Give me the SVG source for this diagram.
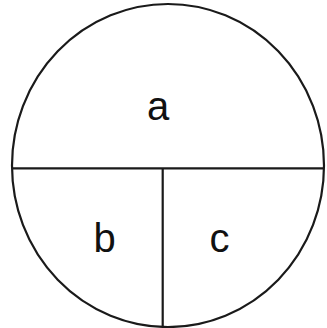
<svg xmlns="http://www.w3.org/2000/svg" width="327" height="328" viewBox="0 0 327 328">
<style>
.ln{stroke:#1a1a1a;stroke-width:2.2;fill:none}
.lb{font-family:"Liberation Sans",Arial,sans-serif;font-size:40px;fill:#111;text-anchor:middle}
</style>
<rect width="327" height="328" fill="#fff"/>
<g id="shape">
<ellipse class="ln" cx="168" cy="165.5" rx="156" ry="161.5"/>
</g>
<g id="connectors">
<line class="ln" x1="12" y1="168.3" x2="324" y2="168.3"/>
<line class="ln" x1="162.7" y1="168.3" x2="162.7" y2="327"/>
</g>
<g id="a"><text class="lb" x="158" y="120">a</text></g>
<g id="b"><text class="lb" x="104.5" y="252">b</text></g>
<g id="c"><text class="lb" x="219.5" y="252">c</text></g>
</svg>
